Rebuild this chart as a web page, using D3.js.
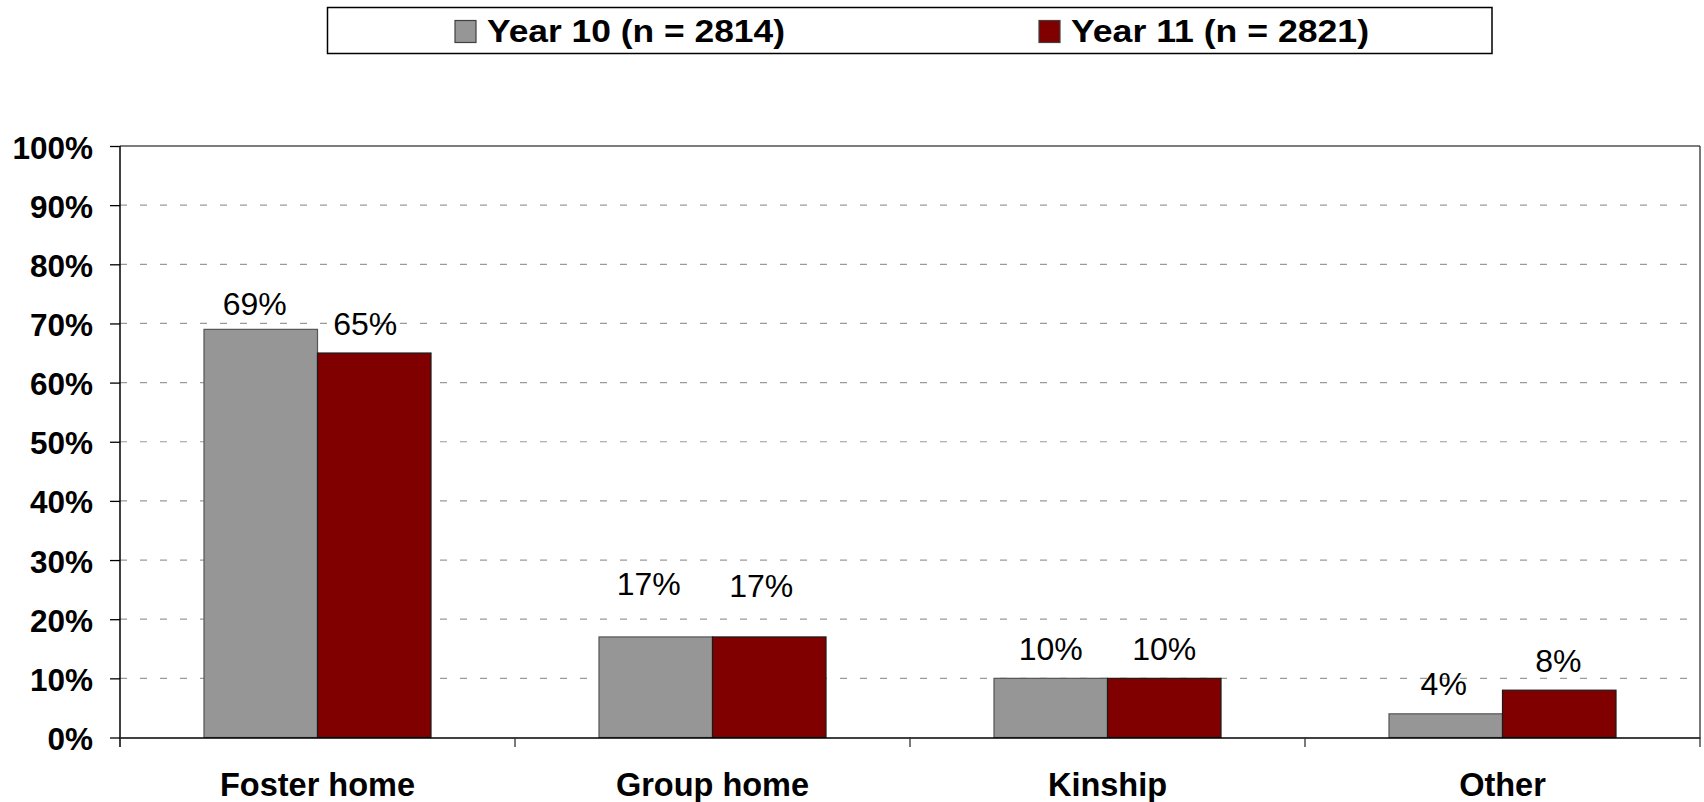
<!DOCTYPE html>
<html>
<head>
<meta charset="utf-8">
<script src="https://cdn.jsdelivr.net/npm/d3@7"></script>
<style>
  html, body { margin: 0; padding: 0; background: #ffffff; }
  svg { display: block; }
  text { font-family: Arial, "Liberation Sans", sans-serif; }
</style>
</head>
<body>
<svg id="chart" width="1704" height="802"></svg>
<script>
// ---- data ----
const categories = ["Foster home", "Group home", "Kinship", "Other"];
const seriesNames = ["Year 10 (n = 2814)", "Year 11 (n = 2821)"];
const year10 = [69, 17, 10, 4];
const year11 = [65, 17, 10, 8];
const yTicks = [0, 10, 20, 30, 40, 50, 60, 70, 80, 90, 100];

// ---- layout / style (not data) ----
const colors = ["#969696", "#800000"];
const labelRaise = [[14, 18], [42, 40], [18, 18], [19, 18]];
const labelShift = [[-6, -9], [-7, -8], [0, 0], [-2, -1]];
const W = 1704, H = 802;
const margin = { left: 120, right: 4, top: 146, bottom: 64.5 };

const svg = d3.select("#chart");
const plotL = margin.left, plotR = W - margin.right;
const plotT = margin.top, plotB = H - margin.bottom;

const x0 = d3.scaleBand().domain(categories).range([plotL, plotR]).padding(0);
const x1 = d3.scaleBand().domain([0, 1]).range([0, x0.bandwidth()]).paddingInner(0).paddingOuter(0.74);
const y = d3.scaleLinear().domain([0, 100]).range([plotB, plotT]);

// gridlines
svg.append("g")
  .selectAll("line")
  .data(yTicks.filter(t => t > 0 && t < 100))
  .join("line")
  .attr("x1", plotL).attr("x2", plotR)
  .attr("y1", d => y(d)).attr("y2", d => y(d))
  .attr("stroke", "#9a9a9a").attr("stroke-width", 1.2)
  .attr("stroke-dasharray", "7,13");

// top and right border of plot area
svg.append("line").attr("x1", plotL).attr("x2", plotR)
  .attr("y1", y(100)).attr("y2", y(100))
  .attr("stroke", "#505050").attr("stroke-width", 1.3);
svg.append("line").attr("x1", plotR).attr("x2", plotR)
  .attr("y1", y(100)).attr("y2", y(0))
  .attr("stroke", "#303030").attr("stroke-width", 1.3);

// bars
const rows = categories.map((c, i) => ({ cat: c, i, vals: [year10[i], year11[i]] }));
const groups = svg.append("g").selectAll("g")
  .data(rows).join("g")
  .attr("transform", d => `translate(${x0(d.cat)},0)`);

groups.selectAll("rect")
  .data(d => d.vals.map((v, s) => ({ v, s })))
  .join("rect")
  .attr("x", d => x1(d.s))
  .attr("width", x1.bandwidth())
  .attr("y", d => y(d.v))
  .attr("height", d => y(0) - y(d.v))
  .attr("fill", d => colors[d.s])
  .attr("stroke", d => d.s === 0 ? "#555555" : "#1a1a1a")
  .attr("stroke-width", 1.2);

groups.selectAll("text.val")
  .data(d => d.vals.map((v, s) => ({ v, s, i: d.i })))
  .join("text")
  .attr("class", "val")
  .attr("x", d => x1(d.s) + x1.bandwidth() / 2 + labelShift[d.i][d.s])
  .attr("y", d => y(d.v) - labelRaise[d.i][d.s])
  .attr("text-anchor", "middle")
  .attr("font-size", 32)
  .attr("fill", "#000")
  .text(d => d.v + "%");

// y axis
const yAxis = d3.axisLeft(y).tickValues(yTicks).tickSize(10).tickFormat(d => d + "%");
const gy = svg.append("g").attr("transform", `translate(${plotL},0)`).call(yAxis);
gy.select(".domain").remove();
gy.selectAll(".tick line").attr("stroke", "#000").attr("stroke-width", 1.3);
gy.selectAll(".tick text")
  .attr("x", -27)
  .attr("dy", 12)
  .attr("font-size", 31.5)
  .attr("font-weight", "bold")
  .attr("font-family", "Arial, 'Liberation Sans', sans-serif")
  .attr("fill", "#000");
svg.append("line").attr("x1", plotL).attr("x2", plotL)
  .attr("y1", y(100)).attr("y2", y(0) + 9.5)
  .attr("stroke", "#000").attr("stroke-width", 1.5);

// x axis
const xAxis = d3.axisBottom(x0).tickSize(0).tickSizeOuter(0);
const gx = svg.append("g").attr("transform", `translate(0,${y(0)})`).call(xAxis);
gx.select(".domain").attr("stroke", "#000").attr("stroke-width", 1.5);
gx.selectAll(".tick text")
  .attr("y", 58.5)
  .attr("dy", 0)
  .attr("font-size", 32.5)
  .attr("font-weight", "bold")
  .attr("font-family", "Arial, 'Liberation Sans', sans-serif")
  .attr("fill", "#000");
// category boundary ticks
const bounds = categories.map(c => x0(c)).concat([plotR]);
svg.append("g").selectAll("line")
  .data(bounds.slice(1))
  .join("line")
  .attr("x1", d => d).attr("x2", d => d)
  .attr("y1", y(0)).attr("y2", y(0) + 9.5)
  .attr("stroke", "#333").attr("stroke-width", 1.3);

// legend
const leg = svg.append("g");
leg.append("rect")
  .attr("x", 327.5).attr("y", 7.5).attr("width", 1164.5).attr("height", 46)
  .attr("fill", "#fff").attr("stroke", "#000").attr("stroke-width", 1.5);
const legX = [455, 1039];
seriesNames.forEach((name, s) => {
  leg.append("rect")
    .attr("x", legX[s]).attr("y", 20.5).attr("width", 21).attr("height", 22)
    .attr("fill", colors[s]).attr("stroke", "#404040").attr("stroke-width", 1.2);
  leg.append("text")
    .attr("x", legX[s] + 32).attr("y", 42)
    .attr("font-size", 32).attr("font-weight", "bold")
    .attr("textLength", 298).attr("lengthAdjust", "spacingAndGlyphs")
    .attr("fill", "#000")
    .text(name);
});
</script>
</body>
</html>
